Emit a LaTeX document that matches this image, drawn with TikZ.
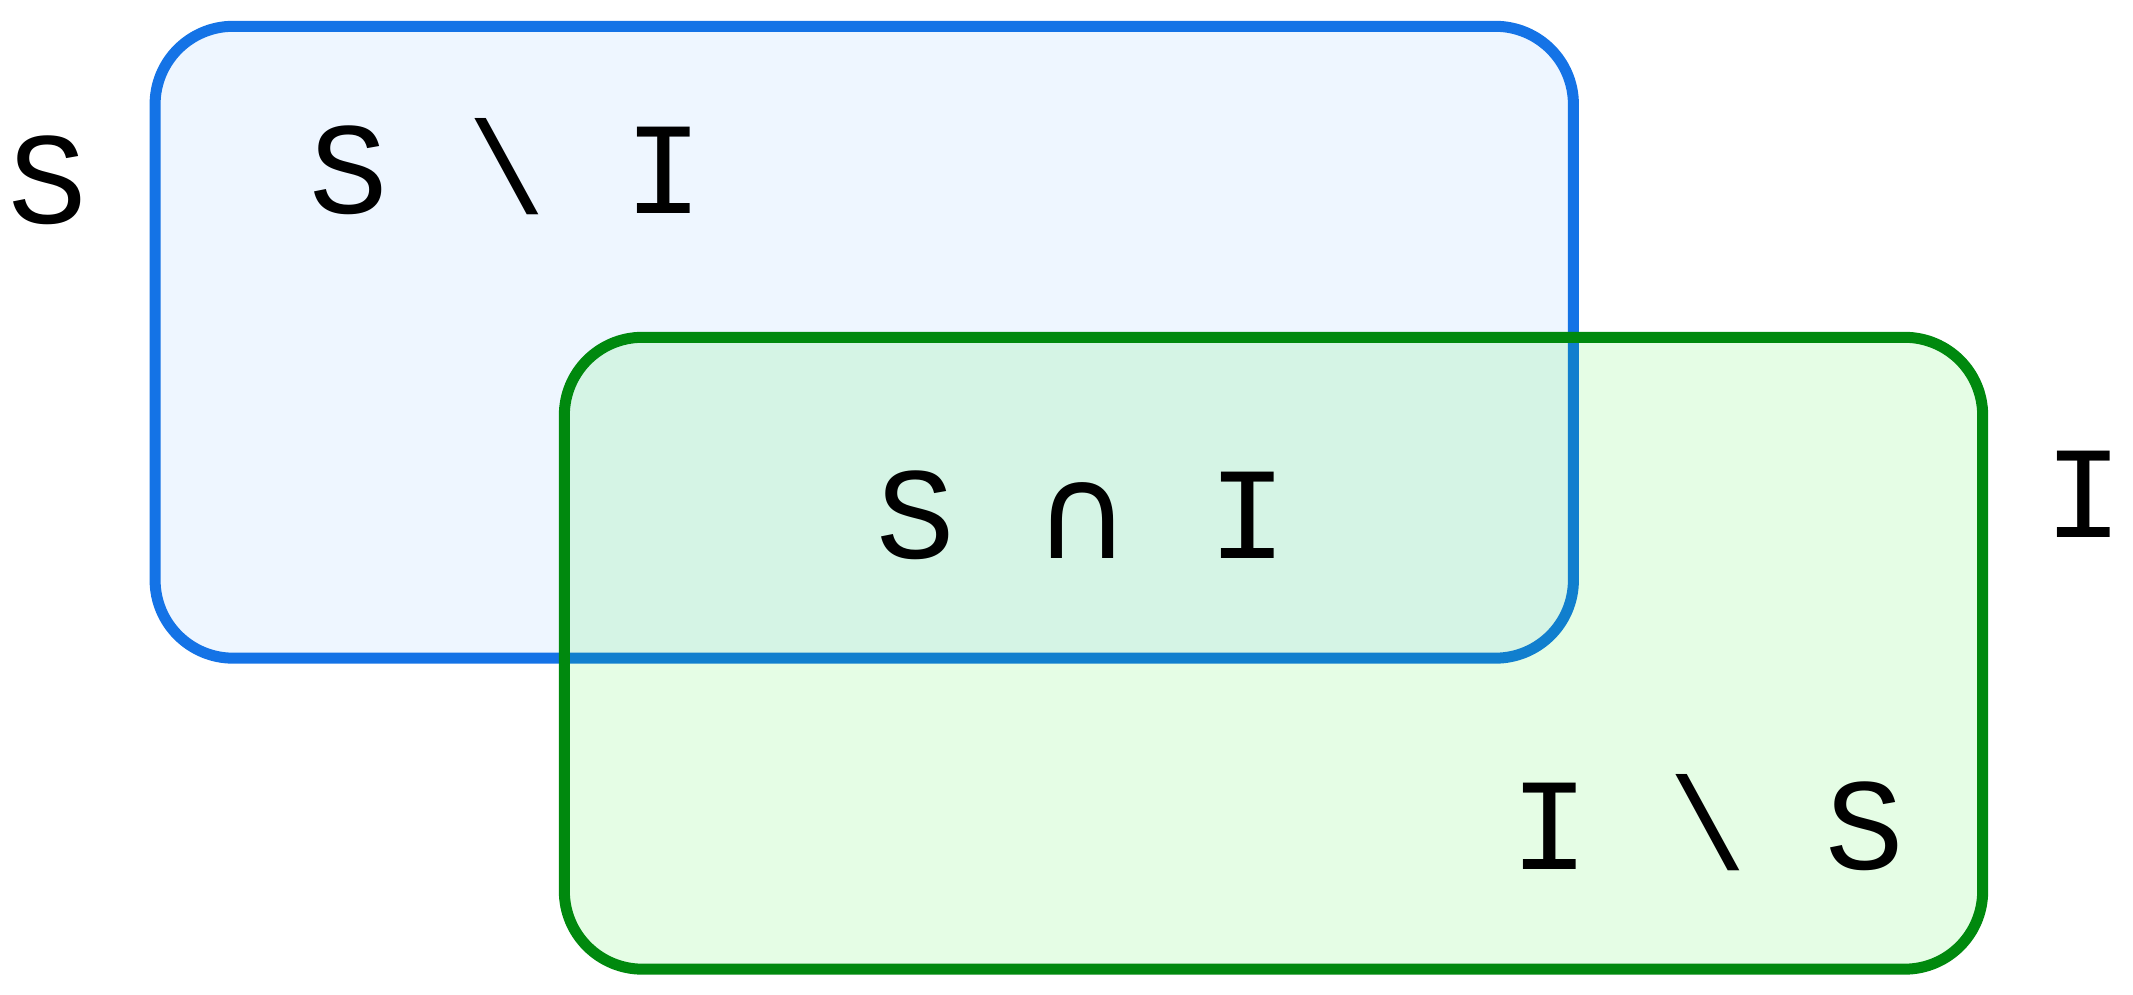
\documentclass[tikz,border=0pt]{standalone}
\usepackage{fontspec}
\setmonofont{Liberation Mono}
\newfontfamily\capfont{DejaVu Sans}
\definecolor{sblue}{HTML}{1473E6}
\definecolor{sbluefill}{HTML}{EEF6FF}
\definecolor{igreen}{HTML}{00890E}
\definecolor{igreenfill}{HTML}{00EB00}
\tikzset{
	setbox/.style={rectangle, inner sep=0pt, line width=3.13pt, rounded corners=0.78cm,
		minimum width=14.175cm, minimum height=6.315cm}, % one box per set
	setname/.style={font=\ttfamily\fontsize{37.3}{40}\selectfont, inner sep=0pt, anchor=base}, % the texts, placed by their baseline
}
\begin{document}
\begin{tikzpicture}[x=0.01cm, y=-0.01cm]
	\useasboundingbox (0,0) rectangle (2133,995);
	\node[setbox, draw=sblue, fill=sbluefill] (S) at (864.25,342.25) {};
	\node[setbox, draw=igreen, fill=igreenfill, fill opacity=0.1] (I) at (1273.5,653.25) {};

	\node[setname] (sname) at (47.5,223.3) {S};
	\node[setname] (iname) at (2084,537.7) {I};
	\node[setname] (sminusi) at (506.5,213.3) {S \textbackslash{} I};
	\node[setname] (scapi) at (1082,559) {S {\capfont ∩} I};
	\node[setname] (iminuss) at (1707.7,869.3) {I \textbackslash{} S};
\end{tikzpicture}
\end{document}
